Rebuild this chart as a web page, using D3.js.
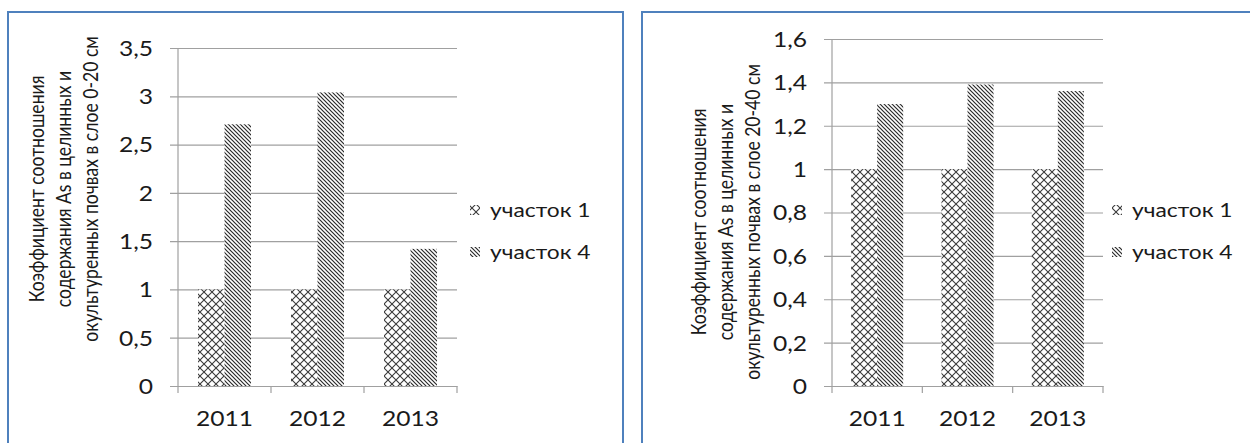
<!DOCTYPE html>
<html>
<head>
<meta charset="utf-8">
<script src="https://cdn.jsdelivr.net/npm/d3@7"></script>
<style>
  html, body { margin: 0; padding: 0; background: #fff; }
  svg { display: block; }
  text { font-family: Lato, "Open Sans", sans-serif; fill: #1a1a1a; }
</style>
</head>
<body>
<svg id="chart" width="1250" height="443"></svg>
<script>
// Years on the category axis
const years = ["2011", "2012", "2013"];
// Legend names of the two plots
const seriesNames = ["участок 1", "участок 4"];

// Layer 0-20 cm
const layer1Plot1 = [1, 1, 1];
const layer1Plot4 = [2.71, 3.04, 1.42];
const layer1Ticks = [0, 0.5, 1, 1.5, 2, 2.5, 3, 3.5];
const layer1Title = ["Коэффициент соотношения", "содержания As в целинных и", "окультуренных почвах в слое 0-20 см"];

// Layer 20-40 cm
const layer2Plot1 = [1, 1, 1];
const layer2Plot4 = [1.30, 1.39, 1.36];
const layer2Ticks = [0, 0.2, 0.4, 0.6, 0.8, 1, 1.2, 1.4, 1.6];
const layer2Title = ["Коэффициент соотношения", "содержания As в целинных и", "окультуренных почвах в слое 20-40 см"];

// text is drawn slightly widened, like the original export
const SX = 1.2;

const svg = d3.select("#chart");
const defs = svg.append("defs");

// Diamond cross-hatch for plot 1
const cross = defs.append("pattern")
  .attr("id", "pat-cross").attr("patternUnits", "userSpaceOnUse")
  .attr("width", 8).attr("height", 8);
cross.append("rect").attr("width", 8).attr("height", 8).attr("fill", "#fff");
cross.append("path").attr("d", "M0,0L8,8M8,0L0,8")
  .attr("stroke", "#3a3a3a").attr("stroke-width", 1.1).attr("fill", "none");

// Downward diagonal hatch for plot 4
const diag = defs.append("pattern")
  .attr("id", "pat-diag").attr("patternUnits", "userSpaceOnUse")
  .attr("width", 4).attr("height", 4);
diag.append("rect").attr("width", 4).attr("height", 4).attr("fill", "#fff");
diag.append("path").attr("d", "M-1,-1L5,5M-1,3L1,5M3,-1L5,1")
  .attr("stroke", "#2a2a2a").attr("stroke-width", 1.2).attr("fill", "none");

const fills = ["url(#pat-cross)", "url(#pat-diag)"];
const fmt = v => String(v).replace(".", ",");

function drawPanel(cfg) {
  const g = svg.append("g");

  // frame
  g.append("rect")
    .attr("x", cfg.frame[0]).attr("y", cfg.frame[1])
    .attr("width", cfg.frame[2]).attr("height", cfg.frame[3])
    .attr("fill", "none").attr("stroke", "#4f81bd").attr("stroke-width", 2);

  const x = d3.scaleBand().domain(years).range([cfg.left, cfg.right]);
  const y = d3.scaleLinear().domain([0, cfg.max]).range([cfg.bottom, cfg.top]);
  const groupW = x.bandwidth() * cfg.groupFrac;
  const xs = d3.scaleBand().domain(seriesNames).range([0, groupW]);

  // gridlines + value labels
  const yAxis = d3.axisLeft(y).tickValues(cfg.ticks).tickFormat(fmt)
    .tickSize(-(cfg.right - cfg.left)).tickPadding(0);
  const ya = g.append("g").attr("transform", `translate(${cfg.left},0)`).call(yAxis);
  ya.select(".domain").remove();
  ya.selectAll(".tick line").attr("stroke", "#a0a0a0").attr("stroke-width", 1.2)
    .attr("x1", -8);
  ya.selectAll(".tick text").attr("x", -25 / SX).attr("dy", "0.36em")
    .attr("transform", `scale(${SX},1)`)
    .style("font-size", "20.5px").attr("fill", "#1a1a1a");

  // bars
  const data = [cfg.s1, cfg.s4];
  data.forEach((vals, si) => {
    g.append("g").selectAll("rect").data(vals).join("rect")
      .attr("x", (d, i) => x(years[i]) + (x.bandwidth() - groupW) / 2 + xs(seriesNames[si]))
      .attr("width", xs.bandwidth())
      .attr("y", d => y(d))
      .attr("height", d => y(0) - y(d))
      .attr("fill", fills[si]);
  });

  // axes lines
  g.append("line").attr("x1", cfg.left).attr("x2", cfg.left)
    .attr("y1", cfg.top).attr("y2", cfg.bottom + 7)
    .attr("stroke", "#a0a0a0").attr("stroke-width", 1.2);
  const xAxis = d3.axisBottom(x).tickSize(0).tickPadding(0);
  const xa = g.append("g").attr("transform", `translate(0,${cfg.bottom})`).call(xAxis);
  xa.select(".domain").attr("stroke", "#a0a0a0").attr("stroke-width", 1.2);
  xa.selectAll(".tick text").attr("y", 40).attr("dy", 0)
    .attr("transform", `scale(${SX},1)`)
    .style("font-size", "20.5px").attr("fill", "#1a1a1a");
  // category separators
  g.append("g").selectAll("line").data(years).join("line")
    .attr("x1", d => x(d) + x.bandwidth()).attr("x2", d => x(d) + x.bandwidth())
    .attr("y1", cfg.bottom).attr("y2", cfg.bottom + 7)
    .attr("stroke", "#a0a0a0").attr("stroke-width", 1.2);

  // axis title
  const t = g.append("text")
    .attr("transform", `translate(${cfg.titleX},${cfg.titleY}) scale(${SX},1) rotate(-90)`)
    .attr("text-anchor", "middle").style("font-size", "17.6px");
  cfg.title.forEach((line, i) => {
    t.append("tspan").attr("x", 0).attr("y", (i - 1) * 22.5 + 6).text(line);
  });

  // legend
  const lg = g.append("g");
  seriesNames.forEach((name, i) => {
    const yy = cfg.legendY + i * 42;
    lg.append("rect").attr("x", cfg.legendX).attr("y", yy - 5)
      .attr("width", 10).attr("height", 10).attr("fill", fills[i]);
    lg.append("text").attr("x", (cfg.legendX + 20) / SX).attr("y", yy).attr("dy", "0.35em")
      .attr("transform", `scale(${SX},1)`)
      .style("font-size", "19px").text(name);
  });
}

drawPanel({
  frame: [8, 12, 615, 450],
  left: 178, right: 457, top: 48, bottom: 386, max: 3.5,
  ticks: layer1Ticks, s1: layer1Plot1, s4: layer1Plot4, groupFrac: 0.57,
  title: layer1Title, titleX: 64, titleY: 189,
  legendX: 470, legendY: 210
});

drawPanel({
  frame: [642, 12, 620, 450],
  left: 832, right: 1103, top: 39, bottom: 386, max: 1.6,
  ticks: layer2Ticks, s1: layer2Plot1, s4: layer2Plot4, groupFrac: 0.576,
  title: layer2Title, titleX: 726, titleY: 222,
  legendX: 1112, legendY: 210
});
</script>
</body>
</html>
